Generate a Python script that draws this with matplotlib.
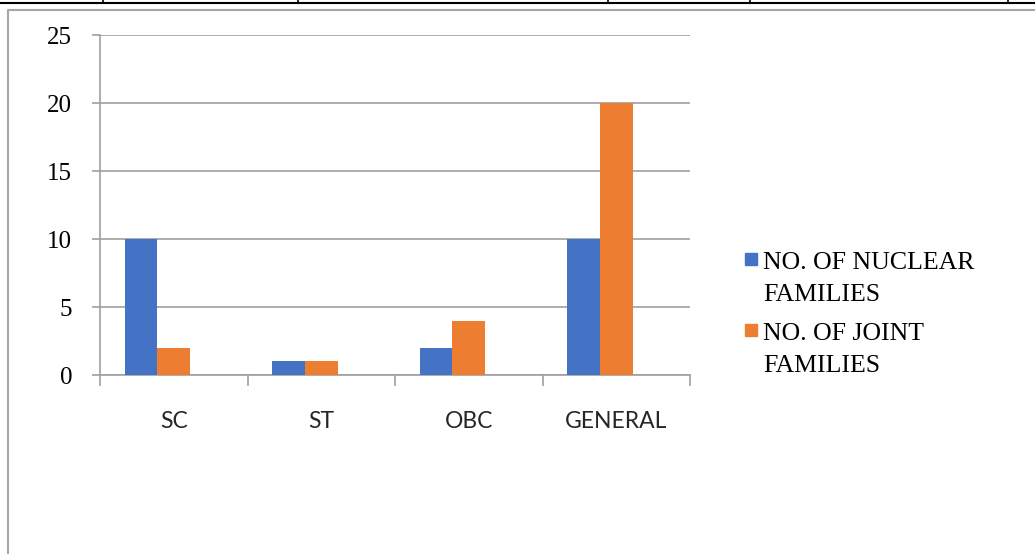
import numpy as np
import matplotlib.pyplot as plt
from matplotlib.lines import Line2D
from matplotlib.patches import Rectangle

# data
categories = ['SC', 'ST', 'OBC', 'GENERAL']
nuclear = [10, 1, 2, 10]
joint = [2, 1, 4, 20]
series_names = ['NO. OF NUCLEAR\nFAMILIES', 'NO. OF JOINT\nFAMILIES']
yticks = [0, 5, 10, 15, 20, 25]

BLUE = '#4472C4'
ORANGE = '#ED7D31'
GRID = '#a0a0a0'

W, H = 1035, 554
fig = plt.figure(figsize=(W / 100, H / 100), dpi=100)

# axes placed in pixel terms
left, right, top, bottom = 100, 690, 35, 375
ax = fig.add_axes([left / W, 1 - bottom / H, (right - left) / W, (bottom - top) / H])

x = np.arange(len(categories))
# Excel layout: 3 series slots (third empty) with 150% gap
w = 1 / (3 + 1.5)
ax.bar(x - w, nuclear, width=w, color=BLUE, align='center', zorder=3)
ax.bar(x, joint, width=w, color=ORANGE, align='center', zorder=3)

ax.set_xlim(-0.5, len(categories) - 0.5)
ax.set_ylim(0, 25)
ax.set_yticks(yticks)
ax.set_yticklabels([str(v) for v in yticks], family='Liberation Serif', fontsize=18)
ax.yaxis.grid(True, color=GRID, linewidth=1.2, zorder=0)
ax.tick_params(axis='y', length=6, width=1.2, color=GRID, pad=14)

# category boundary ticks and centred labels
ax.set_xticks(np.arange(-0.5, len(categories)), labels=[''] * (len(categories) + 1))
ax.tick_params(axis='x', which='major', length=8, width=1.2, color=GRID)
ax.set_xticks(x, labels=categories, minor=True)
ax.tick_params(axis='x', which='minor', length=0, pad=26, labelsize=16.5)
for lbl in ax.get_xticklabels(minor=True):
    lbl.set_family('Lato')
    lbl.set_color('#262626')

for s in ['top', 'right']:
    ax.spines[s].set_visible(False)
for s in ['left', 'bottom']:
    ax.spines[s].set_color(GRID)
    ax.spines[s].set_linewidth(1.2)

# legend drawn by hand to match the first-line alignment
leg_rows = [(269, 301), (340, 372)]
for name, color, (b1, b2) in zip(series_names, [BLUE, ORANGE], leg_rows):
    sq = 12
    fig.patches.append(Rectangle((745 / W, 1 - (b1 - 4) / H), sq / W, sq / H,
                                 transform=fig.transFigure, color=color))
    l1, l2 = name.split('\n')
    fig.text(763 / W, 1 - b1 / H, l1, family='Liberation Serif', fontsize=18.6, va='baseline')
    fig.text(763 / W, 1 - b2 / H, l2, family='Liberation Serif', fontsize=18.6, va='baseline')

# chart frame and document table border
fig.add_artist(Line2D([8 / W, 8 / W, 1.0], [0, 1 - 10 / H, 1 - 10 / H],
                      transform=fig.transFigure, color='#a6a6a6', lw=1.5))
fig.add_artist(Line2D([0, 1], [1 - 3 / H, 1 - 3 / H], transform=fig.transFigure,
                      color='black', lw=1.5))
for px in [103, 298, 608, 750, 1008]:
    fig.add_artist(Line2D([px / W, px / W], [1 - 3 / H, 1], transform=fig.transFigure,
                          color='black', lw=1.2))

fig.savefig('out.png', dpi=100)
